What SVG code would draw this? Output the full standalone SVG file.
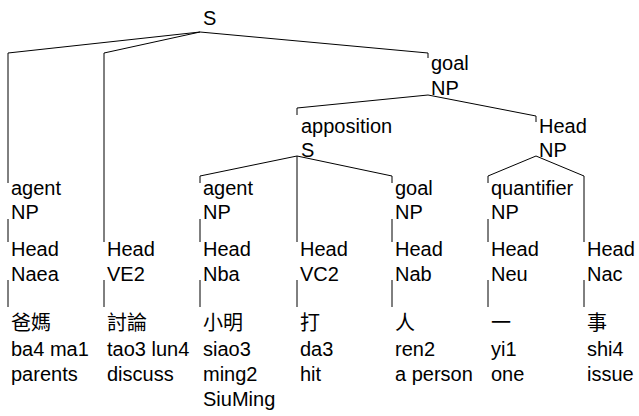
<svg xmlns="http://www.w3.org/2000/svg" width="639" height="416" viewBox="0 0 639 416">
<style>
text{font-family:"Liberation Sans",Arial,"Noto Sans CJK TC",sans-serif;font-size:20px;fill:#000}
.c{fill:none;stroke:#000;stroke-width:1}
</style>
<rect width="639" height="416" fill="#fff"/>
<g id="connectors" class="c">
<polyline points="200,32 8,53 8,183"/>
<polyline points="200,32 104,53 104,242"/>
<polyline points="200,32 428,53 428,58"/>
<polyline points="428,95 297,108 297,115"/>
<polyline points="428,95 536,116 536,122"/>
<polyline points="297,156 200,176 200,183"/>
<polyline points="297,156 297,242"/>
<polyline points="297,156 392,176 392,183"/>
<polyline points="536,156 488,176 488,183"/>
<polyline points="536,156 584,176 584,242"/>
<line x1="8" y1="219" x2="8" y2="242"/>
<line x1="200" y1="219" x2="200" y2="242"/>
<line x1="392" y1="219" x2="392" y2="242"/>
<line x1="488" y1="219" x2="488" y2="242"/>
<line x1="8" y1="280" x2="8" y2="307"/>
<line x1="104" y1="280" x2="104" y2="307"/>
<line x1="200" y1="280" x2="200" y2="307"/>
<line x1="297" y1="280" x2="297" y2="307"/>
<line x1="392" y1="280" x2="392" y2="307"/>
<line x1="488" y1="280" x2="488" y2="307"/>
<line x1="584" y1="280" x2="584" y2="307"/>
</g>
<g id="root-S"><text x="203" y="25">S</text></g>
<g id="goal-NP"><text x="431" y="70">goal</text><text x="431" y="95">NP</text></g>
<g id="apposition-S"><text x="301" y="133">apposition</text><text x="301" y="157">S</text></g>
<g id="head-NP"><text x="539" y="133">Head</text><text x="539" y="157">NP</text></g>
<g id="agent-NP-1"><text x="11" y="195">agent</text><text x="11" y="219">NP</text></g>
<g id="agent-NP-2"><text x="203" y="195">agent</text><text x="203" y="219">NP</text></g>
<g id="goal-NP-2"><text x="395" y="195">goal</text><text x="395" y="219">NP</text></g>
<g id="quantifier-NP"><text x="491" y="195">quantifier</text><text x="491" y="219">NP</text></g>
<g id="head-Naea"><text x="11" y="256">Head</text><text x="11" y="281">Naea</text></g>
<g id="head-VE2"><text x="107" y="256">Head</text><text x="107" y="281">VE2</text></g>
<g id="head-Nba"><text x="203" y="256">Head</text><text x="203" y="281">Nba</text></g>
<g id="head-VC2"><text x="300" y="256">Head</text><text x="300" y="281">VC2</text></g>
<g id="head-Nab"><text x="395" y="256">Head</text><text x="395" y="281">Nab</text></g>
<g id="head-Neu"><text x="491" y="256">Head</text><text x="491" y="281">Neu</text></g>
<g id="head-Nac"><text x="587" y="256">Head</text><text x="587" y="281">Nac</text></g>
<g id="word-1"><text x="11" y="330">爸媽</text><text x="11" y="356">ba4 ma1</text><text x="11" y="381">parents</text></g>
<g id="word-2"><text x="107" y="330">討論</text><text x="107" y="356">tao3 lun4</text><text x="107" y="381">discuss</text></g>
<g id="word-3"><text x="203" y="330">小明</text><text x="203" y="356">siao3</text><text x="203" y="381">ming2</text><text x="203" y="406">SiuMing</text></g>
<g id="word-4"><text x="300" y="330">打</text><text x="300" y="356">da3</text><text x="300" y="381">hit</text></g>
<g id="word-5"><text x="395" y="330">人</text><text x="395" y="356">ren2</text><text x="395" y="381">a person</text></g>
<g id="word-6"><text x="491" y="330">一</text><text x="491" y="356">yi1</text><text x="491" y="381">one</text></g>
<g id="word-7"><text x="587" y="330">事</text><text x="587" y="356">shi4</text><text x="587" y="381">issue</text></g>
</svg>
